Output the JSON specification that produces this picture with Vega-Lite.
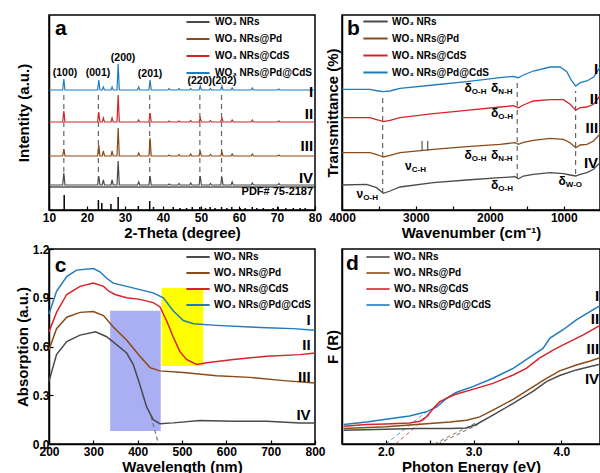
{
"$schema": "https://vega.github.io/schema/vega-lite/v6.json",
"background": "white",
"padding": {"left": 14, "top": 9, "right": 0, "bottom": 0},
"bounds": "flush",
"columns": 2,
"spacing": {"row": 39, "column": 27},
"resolve": {"scale": {"color": "independent"}, "legend": {"color": "independent"}},
"config": {
  "font": "Liberation Sans",
  "view": {"stroke": "black", "strokeWidth": 1.5},
  "axis": {"grid": false, "domainColor": "black", "domainWidth": 1.5, "tickColor": "black", "tickWidth": 1.2, "tickSize": -4, "labelFontSize": 12, "labelFontWeight": "bold", "labelColor": "black", "titleFontSize": 15, "titleFontWeight": "bold", "titleColor": "black", "labelFlush": false, "labelPadding": 6, "titlePadding": 2},
  "legend": {"orient": "none", "symbolType": "M-1.2,0H1.2", "symbolStrokeWidth": 2, "symbolSize": 380, "labelFontSize": 10, "labelFontWeight": "bold", "labelColor": "black", "rowPadding": -3, "labelOffset": 5, "padding": 0}
},
"datasets": {
  "xrd": [
    {"s":"g","x":10,"y":25},{"s":"g","x":13.6,"y":25},{"s":"g","x":13.9,"y":37},{"s":"g","x":14.2,"y":25},{"s":"g","x":22.8,"y":25},{"s":"g","x":23.1,"y":34},{"s":"g","x":23.4,"y":25},{"s":"g","x":24.0,"y":25},{"s":"g","x":24.3,"y":30},{"s":"g","x":24.6,"y":25},{"s":"g","x":26.3,"y":25},{"s":"g","x":26.6,"y":30},{"s":"g","x":26.9,"y":25},{"s":"g","x":27.9,"y":25},{"s":"g","x":28.2,"y":49},{"s":"g","x":28.5,"y":25},{"s":"g","x":33.3,"y":25},{"s":"g","x":33.6,"y":28},{"s":"g","x":33.9,"y":25},{"s":"g","x":36.3,"y":25},{"s":"g","x":36.6,"y":34},{"s":"g","x":36.9,"y":25},{"s":"g","x":41.3,"y":25},{"s":"g","x":41.6,"y":26},{"s":"g","x":41.9,"y":25},{"s":"g","x":43.9,"y":25},{"s":"g","x":44.2,"y":26.5},{"s":"g","x":44.5,"y":25},{"s":"g","x":47.0,"y":25},{"s":"g","x":47.3,"y":27},{"s":"g","x":47.6,"y":25},{"s":"g","x":49.5,"y":25},{"s":"g","x":49.8,"y":34},{"s":"g","x":50.1,"y":25},{"s":"g","x":52.2,"y":25},{"s":"g","x":52.5,"y":26.5},{"s":"g","x":52.8,"y":25},{"s":"g","x":55.2,"y":25},{"s":"g","x":55.5,"y":33},{"s":"g","x":55.8,"y":25},{"s":"g","x":57.9,"y":25},{"s":"g","x":58.2,"y":28},{"s":"g","x":58.5,"y":25},{"s":"g","x":63.2,"y":25},{"s":"g","x":63.5,"y":27},{"s":"g","x":63.8,"y":25},{"s":"g","x":70.2,"y":25},{"s":"g","x":70.5,"y":26.5},{"s":"g","x":70.8,"y":25},{"s":"g","x":80,"y":25},
    {"s":"p","x":10,"y":54},{"s":"p","x":13.6,"y":54},{"s":"p","x":13.9,"y":61},{"s":"p","x":14.2,"y":54},{"s":"p","x":22.8,"y":54},{"s":"p","x":23.1,"y":65},{"s":"p","x":23.4,"y":54},{"s":"p","x":24.0,"y":54},{"s":"p","x":24.3,"y":59},{"s":"p","x":24.6,"y":54},{"s":"p","x":26.3,"y":54},{"s":"p","x":26.6,"y":59},{"s":"p","x":26.9,"y":54},{"s":"p","x":27.9,"y":54},{"s":"p","x":28.2,"y":82},{"s":"p","x":28.5,"y":54},{"s":"p","x":33.3,"y":54},{"s":"p","x":33.6,"y":57},{"s":"p","x":33.9,"y":54},{"s":"p","x":36.3,"y":54},{"s":"p","x":36.6,"y":72},{"s":"p","x":36.9,"y":54},{"s":"p","x":41.3,"y":54},{"s":"p","x":41.6,"y":55},{"s":"p","x":41.9,"y":54},{"s":"p","x":43.9,"y":54},{"s":"p","x":44.2,"y":55.5},{"s":"p","x":44.5,"y":54},{"s":"p","x":47.0,"y":54},{"s":"p","x":47.3,"y":56},{"s":"p","x":47.6,"y":54},{"s":"p","x":49.5,"y":54},{"s":"p","x":49.8,"y":59},{"s":"p","x":50.1,"y":54},{"s":"p","x":52.2,"y":54},{"s":"p","x":52.5,"y":55.5},{"s":"p","x":52.8,"y":54},{"s":"p","x":55.2,"y":54},{"s":"p","x":55.5,"y":58},{"s":"p","x":55.8,"y":54},{"s":"p","x":57.9,"y":54},{"s":"p","x":58.2,"y":56},{"s":"p","x":58.5,"y":54},{"s":"p","x":63.2,"y":54},{"s":"p","x":63.5,"y":56},{"s":"p","x":63.8,"y":54},{"s":"p","x":70.2,"y":54},{"s":"p","x":70.5,"y":55},{"s":"p","x":70.8,"y":54},{"s":"p","x":80,"y":54},
    {"s":"c","x":10,"y":88},{"s":"c","x":13.6,"y":88},{"s":"c","x":13.9,"y":99},{"s":"c","x":14.2,"y":88},{"s":"c","x":22.8,"y":88},{"s":"c","x":23.1,"y":98},{"s":"c","x":23.4,"y":88},{"s":"c","x":24.0,"y":88},{"s":"c","x":24.3,"y":92},{"s":"c","x":24.6,"y":88},{"s":"c","x":26.3,"y":88},{"s":"c","x":26.6,"y":92},{"s":"c","x":26.9,"y":88},{"s":"c","x":27.9,"y":88},{"s":"c","x":28.2,"y":115},{"s":"c","x":28.5,"y":88},{"s":"c","x":33.3,"y":88},{"s":"c","x":33.6,"y":90},{"s":"c","x":33.9,"y":88},{"s":"c","x":36.3,"y":88},{"s":"c","x":36.6,"y":97},{"s":"c","x":36.9,"y":88},{"s":"c","x":41.3,"y":88},{"s":"c","x":41.6,"y":89},{"s":"c","x":41.9,"y":88},{"s":"c","x":43.9,"y":88},{"s":"c","x":44.2,"y":89},{"s":"c","x":44.5,"y":88},{"s":"c","x":47.0,"y":88},{"s":"c","x":47.3,"y":89.5},{"s":"c","x":47.6,"y":88},{"s":"c","x":49.5,"y":88},{"s":"c","x":49.8,"y":92},{"s":"c","x":50.1,"y":88},{"s":"c","x":52.2,"y":88},{"s":"c","x":52.5,"y":89.5},{"s":"c","x":52.8,"y":88},{"s":"c","x":55.2,"y":88},{"s":"c","x":55.5,"y":92},{"s":"c","x":55.8,"y":88},{"s":"c","x":57.9,"y":88},{"s":"c","x":58.2,"y":90},{"s":"c","x":58.5,"y":88},{"s":"c","x":63.2,"y":88},{"s":"c","x":63.5,"y":90},{"s":"c","x":63.8,"y":88},{"s":"c","x":70.2,"y":88},{"s":"c","x":70.5,"y":89},{"s":"c","x":70.8,"y":88},{"s":"c","x":80,"y":88},
    {"s":"pc","x":10,"y":120},{"s":"pc","x":13.6,"y":120},{"s":"pc","x":13.9,"y":131},{"s":"pc","x":14.2,"y":120},{"s":"pc","x":22.8,"y":120},{"s":"pc","x":23.1,"y":130},{"s":"pc","x":23.4,"y":120},{"s":"pc","x":24.0,"y":120},{"s":"pc","x":24.3,"y":123},{"s":"pc","x":24.6,"y":120},{"s":"pc","x":26.3,"y":120},{"s":"pc","x":26.6,"y":123},{"s":"pc","x":26.9,"y":120},{"s":"pc","x":27.9,"y":120},{"s":"pc","x":28.2,"y":146},{"s":"pc","x":28.5,"y":120},{"s":"pc","x":33.3,"y":120},{"s":"pc","x":33.6,"y":123},{"s":"pc","x":33.9,"y":120},{"s":"pc","x":36.3,"y":120},{"s":"pc","x":36.6,"y":130},{"s":"pc","x":36.9,"y":120},{"s":"pc","x":41.3,"y":120},{"s":"pc","x":41.6,"y":121.5},{"s":"pc","x":41.9,"y":120},{"s":"pc","x":43.9,"y":120},{"s":"pc","x":44.2,"y":121.5},{"s":"pc","x":44.5,"y":120},{"s":"pc","x":47.0,"y":120},{"s":"pc","x":47.3,"y":121.5},{"s":"pc","x":47.6,"y":120},{"s":"pc","x":49.5,"y":120},{"s":"pc","x":49.8,"y":124},{"s":"pc","x":50.1,"y":120},{"s":"pc","x":52.2,"y":120},{"s":"pc","x":52.5,"y":121.5},{"s":"pc","x":52.8,"y":120},{"s":"pc","x":55.2,"y":120},{"s":"pc","x":55.5,"y":124},{"s":"pc","x":55.8,"y":120},{"s":"pc","x":57.9,"y":120},{"s":"pc","x":58.2,"y":122},{"s":"pc","x":58.5,"y":120},{"s":"pc","x":63.2,"y":120},{"s":"pc","x":63.5,"y":122},{"s":"pc","x":63.8,"y":120},{"s":"pc","x":70.2,"y":120},{"s":"pc","x":70.5,"y":121},{"s":"pc","x":70.8,"y":120},{"s":"pc","x":80,"y":120}
  ],
  "ftir": [
    {"s":"pc","x":4000,"y":120.7},{"s":"pc","x":3621,"y":120.7},{"s":"pc","x":3509,"y":119},{"s":"pc","x":3441,"y":118.3},{"s":"pc","x":3350,"y":119},{"s":"pc","x":3215,"y":121.7},{"s":"pc","x":2765,"y":125},{"s":"pc","x":2313,"y":128.3},{"s":"pc","x":1862,"y":132.3},{"s":"pc","x":1682,"y":133.7},{"s":"pc","x":1614,"y":132.3},{"s":"pc","x":1547,"y":135},{"s":"pc","x":1411,"y":139},{"s":"pc","x":1184,"y":143},{"s":"pc","x":1050,"y":143},{"s":"pc","x":959,"y":138.3},{"s":"pc","x":892,"y":129},{"s":"pc","x":838,"y":124},{"s":"pc","x":778,"y":127.3},{"s":"pc","x":687,"y":129},{"s":"pc","x":597,"y":133},{"s":"pc","x":512,"y":142.3},
    {"s":"c","x":4000,"y":92.3},{"s":"c","x":3621,"y":92.3},{"s":"c","x":3509,"y":90},{"s":"c","x":3441,"y":88.3},{"s":"c","x":3350,"y":89.7},{"s":"c","x":3215,"y":92.3},{"s":"c","x":2765,"y":96.3},{"s":"c","x":2313,"y":99.7},{"s":"c","x":1862,"y":103},{"s":"c","x":1682,"y":104.3},{"s":"c","x":1614,"y":102.3},{"s":"c","x":1547,"y":105},{"s":"c","x":1411,"y":109},{"s":"c","x":1184,"y":110.3},{"s":"c","x":1005,"y":110.3},{"s":"c","x":914,"y":105.7},{"s":"c","x":838,"y":99.7},{"s":"c","x":778,"y":102.3},{"s":"c","x":687,"y":103},{"s":"c","x":597,"y":105.7},{"s":"c","x":512,"y":114},
    {"s":"p","x":4000,"y":57.3},{"s":"p","x":3621,"y":57.3},{"s":"p","x":3509,"y":55},{"s":"p","x":3441,"y":53},{"s":"p","x":3350,"y":54.7},{"s":"p","x":3215,"y":57.3},{"s":"p","x":2765,"y":60.7},{"s":"p","x":2313,"y":63.3},{"s":"p","x":1862,"y":65.7},{"s":"p","x":1659,"y":67.3},{"s":"p","x":1614,"y":65.7},{"s":"p","x":1547,"y":67.7},{"s":"p","x":1411,"y":69.7},{"s":"p","x":1184,"y":71.7},{"s":"p","x":1005,"y":70.7},{"s":"p","x":914,"y":67.3},{"s":"p","x":838,"y":62.3},{"s":"p","x":778,"y":65},{"s":"p","x":687,"y":65.7},{"s":"p","x":597,"y":69},{"s":"p","x":512,"y":75.7},
    {"s":"g","x":4000,"y":25},{"s":"g","x":3667,"y":25.7},{"s":"g","x":3532,"y":22.3},{"s":"g","x":3441,"y":16.7},{"s":"g","x":3350,"y":19},{"s":"g","x":3215,"y":23},{"s":"g","x":2765,"y":27.3},{"s":"g","x":2313,"y":30},{"s":"g","x":1862,"y":32.3},{"s":"g","x":1659,"y":33.3},{"s":"g","x":1614,"y":31.3},{"s":"g","x":1547,"y":34},{"s":"g","x":1411,"y":35.7},{"s":"g","x":1184,"y":37.3},{"s":"g","x":1005,"y":36.3},{"s":"g","x":914,"y":35},{"s":"g","x":838,"y":34},{"s":"g","x":778,"y":35.7},{"s":"g","x":687,"y":37.3},{"s":"g","x":597,"y":40.7},{"s":"g","x":512,"y":47.3}
  ],
  "uv": [
    {"s":"pc","x":200,"y":0.80},{"s":"pc","x":217,"y":0.94},{"s":"pc","x":240,"y":1.03},{"s":"pc","x":262,"y":1.07},{"s":"pc","x":300,"y":1.08},{"s":"pc","x":315,"y":1.06},{"s":"pc","x":330,"y":1.02},{"s":"pc","x":345,"y":0.99},{"s":"pc","x":375,"y":0.97},{"s":"pc","x":405,"y":0.95},{"s":"pc","x":435,"y":0.93},{"s":"pc","x":458,"y":0.90},{"s":"pc","x":480,"y":0.82},{"s":"pc","x":503,"y":0.76},{"s":"pc","x":526,"y":0.74},{"s":"pc","x":578,"y":0.73},{"s":"pc","x":653,"y":0.72},{"s":"pc","x":691,"y":0.715},{"s":"pc","x":750,"y":0.71},{"s":"pc","x":800,"y":0.70},
    {"s":"c","x":200,"y":0.69},{"s":"c","x":217,"y":0.81},{"s":"c","x":240,"y":0.92},{"s":"c","x":270,"y":0.97},{"s":"c","x":300,"y":0.99},{"s":"c","x":323,"y":0.97},{"s":"c","x":335,"y":0.94},{"s":"c","x":349,"y":0.92},{"s":"c","x":375,"y":0.90},{"s":"c","x":405,"y":0.89},{"s":"c","x":435,"y":0.87},{"s":"c","x":450,"y":0.845},{"s":"c","x":465,"y":0.76},{"s":"c","x":480,"y":0.66},{"s":"c","x":495,"y":0.57},{"s":"c","x":510,"y":0.52},{"s":"c","x":533,"y":0.49},{"s":"c","x":556,"y":0.50},{"s":"c","x":616,"y":0.52},{"s":"c","x":691,"y":0.54},{"s":"c","x":766,"y":0.55},{"s":"c","x":800,"y":0.56},
    {"s":"p","x":200,"y":0.58},{"s":"p","x":217,"y":0.71},{"s":"p","x":240,"y":0.78},{"s":"p","x":270,"y":0.81},{"s":"p","x":300,"y":0.815},{"s":"p","x":323,"y":0.79},{"s":"p","x":345,"y":0.72},{"s":"p","x":375,"y":0.64},{"s":"p","x":405,"y":0.54},{"s":"p","x":428,"y":0.47},{"s":"p","x":450,"y":0.45},{"s":"p","x":503,"y":0.44},{"s":"p","x":578,"y":0.42},{"s":"p","x":653,"y":0.41},{"s":"p","x":729,"y":0.39},{"s":"p","x":800,"y":0.375},
    {"s":"g","x":200,"y":0.386},{"s":"g","x":217,"y":0.55},{"s":"g","x":240,"y":0.63},{"s":"g","x":270,"y":0.67},{"s":"g","x":305,"y":0.69},{"s":"g","x":330,"y":0.66},{"s":"g","x":353,"y":0.61},{"s":"g","x":375,"y":0.56},{"s":"g","x":390,"y":0.49},{"s":"g","x":405,"y":0.365},{"s":"g","x":420,"y":0.23},{"s":"g","x":435,"y":0.15},{"s":"g","x":450,"y":0.125},{"s":"g","x":480,"y":0.13},{"s":"g","x":540,"y":0.145},{"s":"g","x":616,"y":0.14},{"s":"g","x":691,"y":0.14},{"s":"g","x":766,"y":0.13},{"s":"g","x":800,"y":0.13}
  ],
  "kub": [
    {"s":"pc","x":1.52,"y":0.10},{"s":"pc","x":1.78,"y":0.113},{"s":"pc","x":2.0,"y":0.127},{"s":"pc","x":2.27,"y":0.144},{"s":"pc","x":2.46,"y":0.165},{"s":"pc","x":2.58,"y":0.19},{"s":"pc","x":2.69,"y":0.234},{"s":"pc","x":2.80,"y":0.264},{"s":"pc","x":2.99,"y":0.294},{"s":"pc","x":3.22,"y":0.337},{"s":"pc","x":3.45,"y":0.388},{"s":"pc","x":3.68,"y":0.457},{"s":"pc","x":3.79,"y":0.49},{"s":"pc","x":3.87,"y":0.543},{"s":"pc","x":4.02,"y":0.586},{"s":"pc","x":4.17,"y":0.637},{"s":"pc","x":4.33,"y":0.68},{"s":"pc","x":4.44,"y":0.71},
    {"s":"c","x":1.52,"y":0.091},{"s":"c","x":1.78,"y":0.1},{"s":"c","x":2.0,"y":0.103},{"s":"c","x":2.27,"y":0.108},{"s":"c","x":2.39,"y":0.117},{"s":"c","x":2.46,"y":0.139},{"s":"c","x":2.54,"y":0.182},{"s":"c","x":2.61,"y":0.216},{"s":"c","x":2.77,"y":0.251},{"s":"c","x":2.99,"y":0.28},{"s":"c","x":3.22,"y":0.311},{"s":"c","x":3.45,"y":0.354},{"s":"c","x":3.60,"y":0.388},{"s":"c","x":3.75,"y":0.44},{"s":"c","x":3.91,"y":0.483},{"s":"c","x":4.06,"y":0.517},{"s":"c","x":4.25,"y":0.56},{"s":"c","x":4.44,"y":0.608},
    {"s":"p","x":1.52,"y":0.079},{"s":"p","x":2.0,"y":0.088},{"s":"p","x":2.35,"y":0.10},{"s":"p","x":2.73,"y":0.113},{"s":"p","x":2.92,"y":0.122},{"s":"p","x":3.07,"y":0.139},{"s":"p","x":3.22,"y":0.174},{"s":"p","x":3.45,"y":0.229},{"s":"p","x":3.68,"y":0.294},{"s":"p","x":3.83,"y":0.337},{"s":"p","x":3.98,"y":0.375},{"s":"p","x":4.17,"y":0.405},{"s":"p","x":4.33,"y":0.426},{"s":"p","x":4.44,"y":0.443},
    {"s":"g","x":1.52,"y":0.07},{"s":"g","x":2.0,"y":0.076},{"s":"g","x":2.35,"y":0.079},{"s":"g","x":2.73,"y":0.079},{"s":"g","x":2.92,"y":0.082},{"s":"g","x":3.03,"y":0.10},{"s":"g","x":3.22,"y":0.148},{"s":"g","x":3.45,"y":0.208},{"s":"g","x":3.68,"y":0.271},{"s":"g","x":3.83,"y":0.32},{"s":"g","x":3.98,"y":0.351},{"s":"g","x":4.17,"y":0.38},{"s":"g","x":4.33,"y":0.397},{"s":"g","x":4.44,"y":0.409}
  ]
},
"concat": [
  {
    "width": 266, "height": 195,
    "encoding": {
      "x": {"field": "x", "type": "quantitative", "scale": {"domain": [10, 80], "nice": false, "zero": false}, "axis": {"title": "2-Theta (degree)", "values": [10,20,30,40,50,60,70,80]}},
      "y": {"field": "y", "type": "quantitative", "scale": {"domain": [0, 195], "nice": false}, "axis": {"title": "Intentity (a.u.)", "labels": false, "ticks": false, "titlePadding": 18}}
    },
    "layer": [
      {"data": {"values": [{"x":13.9,"y":29,"y2":116},{"x":23.0,"y":29,"y2":116},{"x":36.5,"y":29,"y2":116},{"x":49.7,"y":29,"y2":116},{"x":55.4,"y":29,"y2":116}]},
       "mark": {"type": "rule", "strokeDash": [5, 4], "color": "#666666", "strokeWidth": 1.2}, "encoding": {"y2": {"field": "y2"}}},
      {"data": {"name": "xrd"}, "mark": {"type": "line", "strokeWidth": 1.2},
       "encoding": {"color": {"field": "s", "type": "nominal", "scale": {"domain": ["g","p","c","pc"], "range": ["#4a4a4a","#8b4a16","#d8232a","#1f7bbf"]},
         "legend": {"title": null, "legendX": 137, "legendY": -5, "symbolSize": 480, "symbolType": "M-1.05,0H1.05", "labelExpr": "{'g':'WO₃ NRs','p':'WO₃ NRs@Pd','c':'WO₃ NRs@CdS','pc':'WO₃ NRs@Pd@CdS'}[datum.label]"}}}},
      {"data": {"values": [{"x":14.0,"y":0,"y2":15},{"x":23.0,"y":0,"y2":10},{"x":23.9,"y":0,"y2":7},{"x":26.3,"y":0,"y2":6},{"x":28.2,"y":0,"y2":13},{"x":33.5,"y":0,"y2":4},{"x":36.5,"y":0,"y2":9},{"x":37.5,"y":0,"y2":3},{"x":42.7,"y":0,"y2":3},{"x":44.5,"y":0,"y2":2},{"x":46.2,"y":0,"y2":2},{"x":47.7,"y":0,"y2":3},{"x":49.7,"y":0,"y2":3},{"x":51.2,"y":0,"y2":2},{"x":52.4,"y":0,"y2":3},{"x":53.7,"y":0,"y2":2},{"x":55.4,"y":0,"y2":3},{"x":56.8,"y":0,"y2":2},{"x":58.1,"y":0,"y2":3},{"x":60.3,"y":0,"y2":2},{"x":61.6,"y":0,"y2":2},{"x":63.5,"y":0,"y2":3},{"x":64.7,"y":0,"y2":2},{"x":66.4,"y":0,"y2":2},{"x":69.0,"y":0,"y2":2},{"x":70.3,"y":0,"y2":3},{"x":72.3,"y":0,"y2":2},{"x":74.3,"y":0,"y2":2},{"x":76.1,"y":0,"y2":2},{"x":77.4,"y":0,"y2":2}]},
       "mark": {"type": "rule", "color": "black", "strokeWidth": 1.5}, "encoding": {"y2": {"field": "y2"}}},
      {"data": {"values": [{"x":10,"x2":80,"y":23}]}, "mark": {"type": "rule", "color": "black", "strokeWidth": 1.2}, "encoding": {"x2": {"field": "x2"}}},
      {"data": {"values": [{"x":14.2,"y":137,"t":"(100)"},{"x":22.9,"y":137,"t":"(001)"},{"x":29.5,"y":152,"t":"(200)"},{"x":36.6,"y":136,"t":"(201)"},{"x":52.9,"y":129,"t":"(220)(202)"}]},
       "mark": {"type": "text", "fontSize": 10.5, "fontWeight": "bold", "baseline": "middle", "color": "black"}, "encoding": {"text": {"field": "t"}}},
      {"data": {"values": [{"x":79.5,"y":118,"t":"I"},{"x":79.5,"y":96,"t":"II"},{"x":79.5,"y":64,"t":"III"},{"x":79.5,"y":32,"t":"IV"}]},
       "mark": {"type": "text", "fontSize": 15, "fontWeight": "bold", "align": "right", "baseline": "middle", "color": "black"}, "encoding": {"text": {"field": "t"}}},
      {"data": {"values": [{"x":79.5,"y":18,"t":"PDF# 75-2187"}]},
       "mark": {"type": "text", "fontSize": 11, "fontWeight": "bold", "align": "right", "baseline": "middle", "color": "black"}, "encoding": {"text": {"field": "t"}}},
      {"data": {"values": [{"x":11.6,"y":181,"t":"a"}]},
       "mark": {"type": "text", "fontSize": 21, "fontWeight": "bold", "align": "left", "baseline": "middle", "color": "black"}, "encoding": {"text": {"field": "t"}}}
    ]
  },
  {
    "width": 258, "height": 195,
    "encoding": {
      "x": {"field": "x", "type": "quantitative", "scale": {"domain": [510, 4000], "reverse": true, "nice": false, "zero": false}, "axis": {"title": "Wavenumber (cm⁻¹)", "values": [4000,3500,3000,2500,2000,1500,1000], "format": "d", "labelExpr": "datum.value % 1000 === 0 ? datum.label : ''"}},
      "y": {"field": "y", "type": "quantitative", "scale": {"domain": [0, 195], "nice": false}, "axis": {"title": "Transmittance (%)", "labels": false, "ticks": false, "titlePadding": 2}}
    },
    "layer": [
      {"data": {"values": [{"x":3450,"y":17,"y2":114},{"x":1630,"y":32,"y2":127},{"x":840,"y":36,"y2":119}]},
       "mark": {"type": "rule", "strokeDash": [5, 4], "color": "#666666", "strokeWidth": 1.2}, "encoding": {"y2": {"field": "y2"}}},
      {"data": {"values": [{"x":2917,"y":59,"y2":69},{"x":2840,"y":59,"y2":69}]},
       "mark": {"type": "rule", "color": "#555555", "strokeWidth": 1.2}, "encoding": {"y2": {"field": "y2"}}},
      {"data": {"name": "ftir"}, "mark": {"type": "line", "strokeWidth": 1.3},
       "encoding": {"color": {"field": "s", "type": "nominal", "scale": {"domain": ["g","p","c","pc"], "range": ["#4a4a4a","#8b4a16","#d8232a","#1f7bbf"]},
         "legend": {"title": null, "legendX": 22, "legendY": -5, "symbolSize": 410, "labelExpr": "{'g':'WO₃ NRs','p':'WO₃ NRs@Pd','c':'WO₃ NRs@CdS','pc':'WO₃ NRs@Pd@CdS'}[datum.label]"}}}},
      {"data": {"values": [{"x":2245,"y":121.7,"m":"δ","sub":"O-H"},{"x":1885,"y":121.7,"m":"δ","sub":"N-H"},{"x":1885,"y":96.7,"m":"δ","sub":"O-H"},{"x":3057,"y":44,"m":"ν","sub":"C-H"},{"x":2245,"y":55,"m":"δ","sub":"O-H"},{"x":1885,"y":55,"m":"δ","sub":"N-H"},{"x":1885,"y":24.7,"m":"δ","sub":"O-H"},{"x":3712,"y":16.3,"m":"ν","sub":"O-H"},{"x":973,"y":29,"m":"δ","sub":"W-O"}]},
       "layer": [
         {"mark": {"type": "text", "fontSize": 12, "fontWeight": "bold", "align": "right", "baseline": "middle", "color": "black"}, "encoding": {"text": {"field": "m"}}},
         {"mark": {"type": "text", "fontSize": 8, "fontWeight": "bold", "align": "left", "baseline": "middle", "dy": 4, "color": "black"}, "encoding": {"text": {"field": "sub"}}}
       ]},
      {"data": {"values": [{"x":536,"y":141,"t":"I"},{"x":536,"y":111,"t":"II"},{"x":536,"y":82,"t":"III"},{"x":536,"y":47,"t":"IV"}]},
       "mark": {"type": "text", "fontSize": 15, "fontWeight": "bold", "align": "right", "baseline": "middle", "color": "black"}, "encoding": {"text": {"field": "t"}}},
      {"data": {"values": [{"x":3932,"y":181,"t":"b"}]},
       "mark": {"type": "text", "fontSize": 21, "fontWeight": "bold", "align": "left", "baseline": "middle", "color": "black"}, "encoding": {"text": {"field": "t"}}}
    ]
  },
  {
    "width": 266, "height": 195,
    "encoding": {
      "x": {"field": "x", "type": "quantitative", "scale": {"domain": [200, 800], "nice": false, "zero": false}, "axis": {"title": "Wavelength (nm)", "values": [200,300,400,500,600,700,800]}},
      "y": {"field": "y", "type": "quantitative", "scale": {"domain": [0, 1.2], "nice": false}, "axis": {"title": "Absorption (a.u.)", "values": [0,0.3,0.6,0.9,1.2], "format": ".1f", "labelPadding": 4, "titlePadding": 2}}
    },
    "layer": [
      {"data": {"values": [{"x":338,"x2":452,"y":0.08,"y2":0.82,"k":"uv"},{"x":454,"x2":548,"y":0.48,"y2":0.96,"k":"vis"}]},
       "mark": {"type": "rect"}, "encoding": {"x2": {"field": "x2"}, "y2": {"field": "y2"}, "fill": {"field": "k", "type": "nominal", "scale": {"domain": ["uv","vis"], "range": ["#aaaef2","#ffff00"]}, "legend": null}}},
      {"data": {"values": [{"x":430,"y":0.17,"x2":447,"y2":0}]},
       "mark": {"type": "rule", "strokeDash": [4, 3], "color": "#777777", "strokeWidth": 1.2}, "encoding": {"x2": {"field": "x2"}, "y2": {"field": "y2"}}},
      {"data": {"name": "uv"}, "mark": {"type": "line", "strokeWidth": 1.5},
       "encoding": {"color": {"field": "s", "type": "nominal", "scale": {"domain": ["g","p","c","pc"], "range": ["#4a4a4a","#8b4a16","#d8232a","#1f7bbf"]},
         "legend": {"title": null, "legendX": 138, "legendY": -3, "symbolSize": 376, "labelExpr": "{'g':'WO₃ NRs','p':'WO₃ NRs@Pd','c':'WO₃ NRs@CdS','pc':'WO₃ NRs@Pd@CdS'}[datum.label]"}}}},
      {"data": {"values": [{"x":790,"y":0.765,"t":"I"},{"x":790,"y":0.61,"t":"II"},{"x":790,"y":0.41,"t":"III"},{"x":790,"y":0.18,"t":"IV"}]},
       "mark": {"type": "text", "fontSize": 15, "fontWeight": "bold", "align": "right", "baseline": "middle", "color": "black"}, "encoding": {"text": {"field": "t"}}},
      {"data": {"values": [{"x":213,"y":1.096,"t":"c"}]},
       "mark": {"type": "text", "fontSize": 21, "fontWeight": "bold", "align": "left", "baseline": "middle", "color": "black"}, "encoding": {"text": {"field": "t"}}}
    ]
  },
  {
    "width": 258, "height": 195,
    "encoding": {
      "x": {"field": "x", "type": "quantitative", "scale": {"domain": [1.5, 4.44], "nice": false, "zero": false}, "axis": {"title": "Photon Energy (eV)", "values": [2,2.5,3,3.5,4], "labelExpr": "datum.value % 1 === 0 ? datum.label : ''"}},
      "y": {"field": "y", "type": "quantitative", "scale": {"domain": [0, 1], "nice": false}, "axis": {"title": "F (R)", "labels": false, "ticks": false, "titlePadding": 2}}
    },
    "layer": [
      {"data": {"values": [{"s":"pc","x":2.0,"y":0,"x2":2.46,"y2":0.165},{"s":"c","x":2.11,"y":0,"x2":2.5,"y2":0.15},{"s":"p","x":2.55,"y":0,"x2":3.03,"y2":0.11},{"s":"g","x":2.59,"y":0,"x2":3.05,"y2":0.10}]},
       "mark": {"type": "rule", "strokeDash": [4, 3], "strokeWidth": 1, "opacity": 0.8}, "encoding": {"x2": {"field": "x2"}, "y2": {"field": "y2"}, "color": {"field": "s", "type": "nominal"}}},
      {"data": {"name": "kub"}, "mark": {"type": "line", "strokeWidth": 1.5},
       "encoding": {"color": {"field": "s", "type": "nominal", "scale": {"domain": ["g","p","c","pc"], "range": ["#4a4a4a","#8b4a16","#d8232a","#1f7bbf"]},
         "legend": {"title": null, "legendX": 25, "legendY": -3, "symbolSize": 376, "labelExpr": "{'g':'WO₃ NRs','p':'WO₃ NRs@Pd','c':'WO₃ NRs@CdS','pc':'WO₃ NRs@Pd@CdS'}[datum.label]"}}}},
      {"data": {"values": [{"x":4.43,"y":0.76,"t":"I"},{"x":4.43,"y":0.64,"t":"II"},{"x":4.43,"y":0.485,"t":"III"},{"x":4.43,"y":0.335,"t":"IV"}]},
       "mark": {"type": "text", "fontSize": 15, "fontWeight": "bold", "align": "right", "baseline": "middle", "color": "black"}, "encoding": {"text": {"field": "t"}}},
      {"data": {"values": [{"x":1.546,"y":0.923,"t":"d"}]},
       "mark": {"type": "text", "fontSize": 21, "fontWeight": "bold", "align": "left", "baseline": "middle", "color": "black"}, "encoding": {"text": {"field": "t"}}}
    ]
  }
]
}
